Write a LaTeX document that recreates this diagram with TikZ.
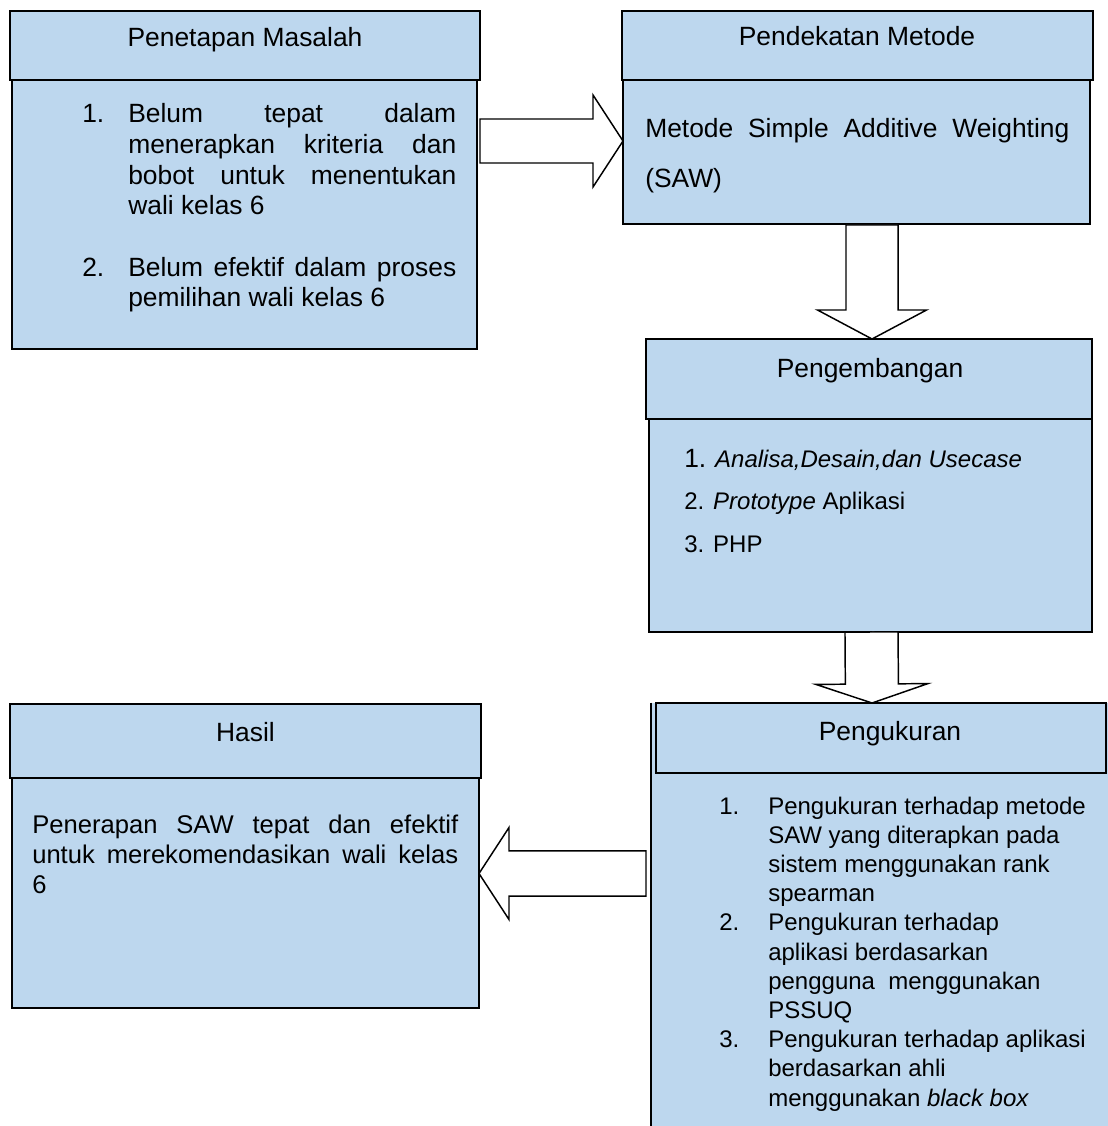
\documentclass[tikz,border=0pt]{standalone}
\usepackage{fontspec}
\setmainfont{Liberation Sans}
\usetikzlibrary{calc,fit}
\definecolor{boxblue}{HTML}{BDD7EE}
\hbadness=10000
\hfuzz=6pt
\newcommand{\blockarrow}[5]{% tail, tip, shaft half width, head half width, head length
  \coordinate (hb) at ($(#2)!#5!(#1)$);
  \draw[barrow] ($(#1)!#3!90:(#2)$) -- ($(hb)!#3!90:(#2)$) -- ($(hb)!#4!90:(#2)$)
    -- (#2) -- ($(hb)!#4!-90:(#2)$) -- ($(hb)!#3!-90:(#2)$) -- ($(#1)!#3!-90:(#2)$) -- cycle;
}
\tikzset{
  boxshape/.style={draw=black, fill=boxblue, line width=1.4pt, inner sep=0pt},
  fillonly/.style={fill=boxblue, inner sep=0pt},
  edgeline/.style={draw=black, line width=1.4pt},
  barrow/.style={draw=black, fill=white, line width=1.1pt, line join=miter},
  hdtext/.style={anchor=base, inner sep=0pt, font=\fontsize{19.8pt}{23pt}\selectfont},
  bodytext/.style={anchor=base west, inner sep=0pt},
}
\begin{document}
\begin{tikzpicture}[x=0.75pt,y=-0.75pt]
\useasboundingbox (0,0) rectangle (1107,1126);

% Penetapan Masalah
\node[boxshape, fit={(12,80) (477,349)}] (b1) {};
\node[boxshape, fit={(10,11) (480,80)}] (h1) {};
% Pendekatan Metode
\node[boxshape, fit={(623,80) (1090,224)}] (b2) {};
\node[boxshape, fit={(622,11) (1093,80)}] (h2) {};
% Pengembangan
\node[boxshape, fit={(649,339) (1092,632)}] (b3) {};
\node[boxshape, fit={(646,339) (1092,419)}] (h3) {};
% Pengukuran
\node[fillonly, fit={(651,703) (1120,1140)}] (b4) {};
\draw[edgeline] (b4.north west) -- (b4.south west);
\node[boxshape, fit={(656,703) (1106,773)}] (h4) {};
% Hasil
\node[boxshape, fit={(12,778) (479,1008)}] (b5) {};
\node[boxshape, fit={(10,704) (481,778)}] (h5) {};

% Arrows
\coordinate (a1s) at (480,141);   \coordinate (a1t) at (623,141);
\coordinate (a2s) at (872,225);   \coordinate (a2t) at (872,339);
\coordinate (a3s) at (871.5,632); \coordinate (a3t) at (872,703);
\coordinate (a4s) at (646,873.5); \coordinate (a4t) at (479,873.5);
\blockarrow{a1s}{a1t}{16.5pt}{34.5pt}{22.5pt}
\blockarrow{a2s}{a2t}{19.5pt}{40.9pt}{21.75pt}
\blockarrow{a3s}{a3t}{19.9pt}{42pt}{14.25pt}
\blockarrow{a4s}{a4t}{16.9pt}{34.5pt}{22.5pt}

% Header texts
\node[hdtext] (t1) at (245,47) {Penetapan Masalah};
\node[hdtext] (t2) at (857,46) {Pendekatan Metode};
\node[hdtext] (t3) at (870,377) {Pengembangan};
\node[hdtext] (t4) at (890,740) {Pengukuran};
\node[hdtext] (t5) at (245.5,741) {Hasil};

% Body texts
\node[bodytext] (x1) at (82,123) {\parbox[t]{280.5pt}{\fontsize{19.8pt}{23pt}\selectfont\parindent=0pt
\hangindent=34.5pt\hangafter=1\makebox[34.5pt][l]{1.}Belum tepat dalam\linebreak menerapkan kriteria dan\linebreak bobot untuk menentukan\linebreak wali kelas 6\par
\vskip 23pt
\hangindent=34.5pt\hangafter=1\makebox[34.5pt][l]{2.}Belum efektif dalam proses\linebreak pemilihan wali kelas 6\par}};

\node[bodytext] (x2) at (645,138) {\parbox[t]{318pt}{\fontsize{19.8pt}{37.5pt}\selectfont Metode Simple Additive Weighting\linebreak (SAW)}};

\node[bodytext] (x3) at (684,467) {\parbox[t]{300pt}{\fontsize{18pt}{31.9pt}\selectfont\raggedright {\fontsize{19.8pt}{31.9pt}\selectfont 1.} \textit{Analisa,Desain,dan Usecase}\\
2. \textit{Prototype} Aplikasi\\
3. PHP}};

\node[bodytext] (x4) at (719,814) {\parbox[t]{330pt}{\fontsize{18pt}{21.9pt}\selectfont\raggedright\parindent=0pt
\hangindent=36.75pt\hangafter=1\makebox[36.75pt][l]{1.}Pengukuran terhadap metode\newline SAW yang diterapkan pada\newline sistem menggunakan rank\newline spearman\par
\hangindent=36.75pt\hangafter=1\makebox[36.75pt][l]{2.}Pengukuran terhadap\newline aplikasi berdasarkan\newline pengguna\ \ menggunakan\newline PSSUQ\par
\hangindent=36.75pt\hangafter=1\makebox[36.75pt][l]{3.}Pengukuran terhadap aplikasi\newline berdasarkan ahli\newline menggunakan \textit{black box}\par}};

\node[bodytext] (x5) at (32,833) {\parbox[t]{319.5pt}{\fontsize{19.2pt}{22.5pt}\selectfont Penerapan SAW tepat dan efektif\linebreak untuk merekomendasikan wali kelas\linebreak 6}};
\end{tikzpicture}
\end{document}
